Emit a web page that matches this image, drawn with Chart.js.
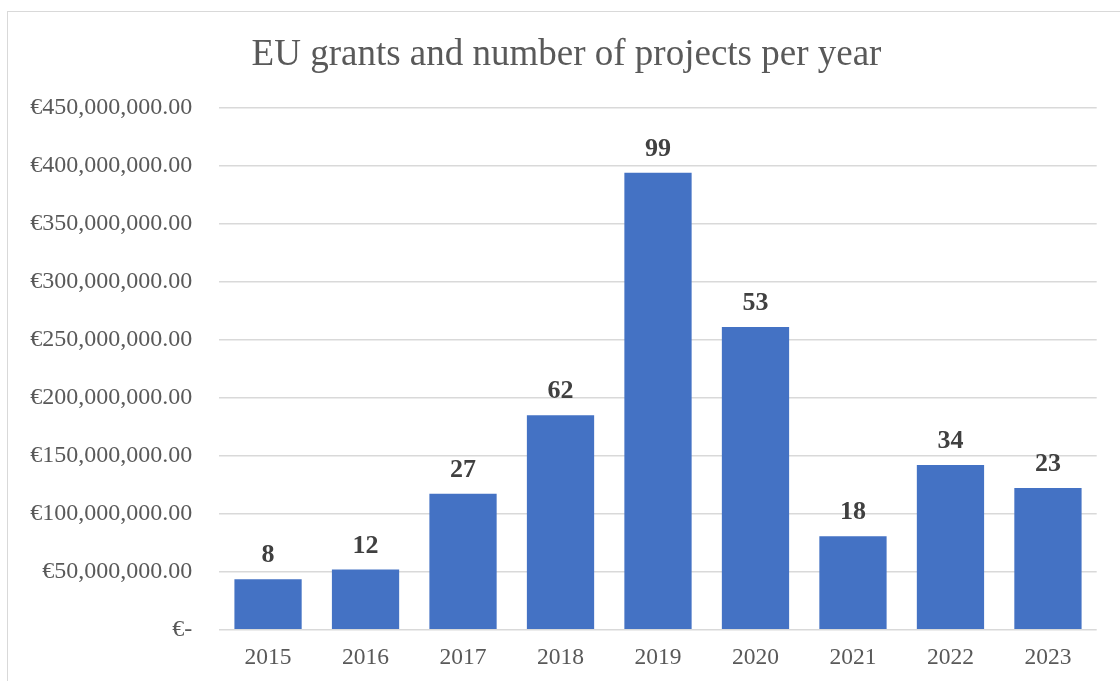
<!DOCTYPE html>
<html>
<head>
<meta charset="utf-8">
<script src="https://cdn.jsdelivr.net/npm/chart.js@4"></script>
<style>
  body { margin: 0; background: #fff; }
</style>
</head>
<body>
<canvas id="grants" width="1120" height="681"></canvas>
<script>
const years = ['2015', '2016', '2017', '2018', '2019', '2020', '2021', '2022', '2023'];
// EU grant amount per year, in euro
const grants = [43500000, 51800000, 117200000, 184800000, 393800000, 260800000, 80600000, 142000000, 122100000];
// number of projects per year, written above each bar
const projects = [8, 12, 27, 62, 99, 53, 18, 34, 23];

const serif = "'Liberation Serif', 'Times New Roman', serif";

function euro(v) {
    if (v === 0) return '€-';
    return '€' + v.toLocaleString('en-US', { minimumFractionDigits: 2, maximumFractionDigits: 2 });
}

const frame = {
    id: 'frame',
    beforeDraw(chart) {
        const c = chart.ctx;
        c.save();
        c.strokeStyle = '#d9d9d9';
        c.lineWidth = 1;
        c.strokeRect(7.5, 11.5, 1200, 700);
        c.restore();
    }
};

// centre the title over the tick labels + plot, not the whole canvas
const titleSpan = {
    id: 'titleSpan',
    afterLayout(chart) {
        if (chart.titleBlock) {
            chart.titleBlock.left = 36;
            chart.titleBlock.right = 1097;
        }
    }
};

const projectLabels = {
    id: 'projectLabels',
    afterDatasetsDraw(chart) {
        const c = chart.ctx;
        const bars = chart.getDatasetMeta(0).data;
        c.save();
        c.font = 'bold 26px ' + serif;
        c.fillStyle = '#404040';
        c.textAlign = 'center';
        c.textBaseline = 'alphabetic';
        bars.forEach((bar, i) => {
            c.fillText(String(projects[i]), bar.x, bar.y - 17);
        });
        c.restore();
    }
};

const ctx = document.getElementById('grants').getContext('2d');
const chart = new Chart(ctx, {
    type: 'bar',
    data: {
        labels: years,
        datasets: [{
            label: 'EU grants',
            data: grants,
            backgroundColor: '#4472c4',
            borderWidth: 0,
            categoryPercentage: 1,
            barPercentage: 0.69
        }]
    },
    options: {
        responsive: false,
        animation: false,
        layout: { padding: { left: 16, right: 23.3, top: 0, bottom: 0 } },
        plugins: {
            legend: { display: false },
            tooltip: { enabled: false },
            title: {
                display: true,
                text: 'EU grants and number of projects per year',
                color: '#595959',
                font: { family: serif, size: 37, weight: 'normal' },
                padding: { top: 33.5, bottom: 29.6 }
            }
        },
        scales: {
            x: {
                grid: { display: false, drawTicks: false },
                border: { display: false },
                ticks: {
                    color: '#595959',
                    font: { family: serif, size: 23.5 },
                    padding: 13.8
                },
                afterFit(scale) { scale.height = 51.3; }
            },
            y: {
                min: 0,
                max: 450000000,
                border: { display: false },
                grid: { color: '#d9d9d9', lineWidth: 1.5, drawTicks: false },
                ticks: {
                    stepSize: 50000000,
                    color: '#595959',
                    font: { family: serif, size: 24 },
                    padding: 27,
                    callback: v => euro(v)
                },
                afterFit(scale) { scale.width = 203.3; }
            }
        }
    },
    plugins: [frame, titleSpan, projectLabels]
});
</script>
</body>
</html>
